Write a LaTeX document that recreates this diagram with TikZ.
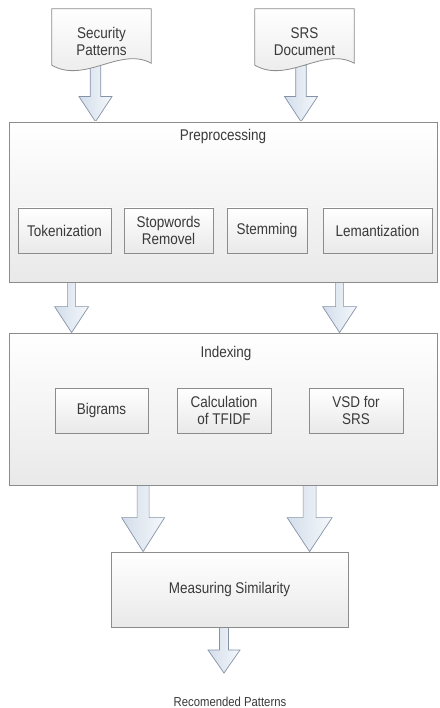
\documentclass[tikz,border=0pt]{standalone}
\usepackage{fontspec}
\setmainfont{Liberation Sans}[FakeStretch=0.87]
\usetikzlibrary{calc}
\definecolor{txt}{HTML}{3A3A3A}
\definecolor{bord}{HTML}{8C8C8C}
\definecolor{arrleft}{HTML}{D3DDEA}
\definecolor{arrright}{HTML}{F5F8FB}
\definecolor{arrbord}{HTML}{8593A8}
\definecolor{boxbot}{HTML}{E9E9E9}
\pgfdeclarelayer{bg}
\pgfsetlayers{bg,main}
\tikzset{
  bigbox/.style={draw=bord, top color=white, bottom color=boxbot, inner sep=0pt, line width=0.8pt},
  smallbox/.style={draw=bord, top color=white, bottom color=boxbot, inner sep=0pt, align=center,
    minimum height=45pt, line width=0.8pt},
  docnode/.style={inner sep=0pt, align=center, minimum width=99pt, minimum height=47pt},
  docshape/.style={draw=bord, top color=white, bottom color=boxbot, line width=0.8pt},
  titletext/.style={inner sep=0pt},
  blockarr/.style n args={3}{draw=arrbord, line width=0.7pt, left color=arrleft, right color=arrright,
    to path={let \p1=(\tikztostart), \p2=(\tikztotarget) in
      (\x1-#1pt,\y1) -- (\x1-#1pt,\y2+#3pt) -- (\x1-#2pt,\y2+#3pt) -- (\x1,\y2)
      -- (\x1+#2pt,\y2+#3pt) -- (\x1+#1pt,\y2+#3pt) -- (\x1+#1pt,\y1) -- cycle}}
}
\begin{document}
\begin{tikzpicture}[x=1pt,y=-1pt,font=\fontsize{15.5}{17}\selectfont,text=txt]
\useasboundingbox (0,0) rectangle (439,708);

% documents
\node[docnode] (doc1) at (101.5,41.5) {Security\\Patterns};
\node[docnode] (doc2) at (304.5,41.5) {SRS\\Document};

% big boxes
\node[bigbox, minimum width=428pt, minimum height=160pt] (pre) at (223,202) {};
\node[titletext] (pret) at (223,136) {Preprocessing};
\node[smallbox, minimum width=93pt] (tok) at (64.5,230.5) {Tokenization};
\node[smallbox, minimum width=89pt] (stop) at (168.5,230.5) {Stopwords\\Removel};
\node[smallbox, minimum width=80pt] (stem) at (267,230.5) {Stemming};
\node[smallbox, minimum width=109pt] (lem) at (377.5,230.5) {Lemantization};

\node[bigbox, minimum width=428pt, minimum height=152pt] (idx) at (223,409) {};
\node[titletext] (idxt) at (226,353) {Indexing};
\node[smallbox, minimum width=93pt] (big) at (101.5,410.5) {Bigrams};
\node[smallbox, minimum width=94pt] (calc) at (224,410.5) {Calculation\\of TFIDF};
\node[smallbox, minimum width=94pt] (vsd) at (356,410.5) {VSD for\\SRS};

\node[bigbox, minimum width=237pt, minimum height=75pt] (ms) at (229.5,589.5) {Measuring Similarity};

\node[titletext, font=\fontsize{13}{15}\selectfont] (rec) at (230,702) {Recomended Patterns};
\coordinate (rectip) at (224,673);

\begin{pgfonlayer}{bg}
  \fill[white] (0,0) rectangle (439,708);
  % arrows
  \draw[blockarr={5.3}{16.5}{25}] ([xshift=-6pt]doc1.south) to ([xshift=-6pt]doc1.south |- pre.north);
  \draw[blockarr={5.3}{16.5}{25}] ([xshift=-3.5pt]doc2.south) to ([xshift=-3.5pt]doc2.south |- pre.north);
  \draw[blockarr={4}{17}{26}] ([xshift=63pt]pre.south west) to ([xshift=63pt]idx.north west);
  \draw[blockarr={4}{17}{26}] ([xshift=331pt]pre.south west) to ([xshift=331pt]idx.north west);
  \draw[blockarr={6}{21.5}{34}] ([xshift=32.5pt]ms.north west |- idx.south) to ([xshift=32.5pt]ms.north west);
  \draw[blockarr={6.5}{22.5}{34}] ([xshift=199pt]ms.north west |- idx.south) to ([xshift=199pt]ms.north west);
  \draw[blockarr={4.5}{16}{23}] (rectip |- ms.south) to (rectip);
  % document outlines
  \foreach \d in {doc1,doc2}{
    \path[docshape] ($(\d.north west)+(0,-9)$) -- ($(\d.north east)+(0,-9)$) -- ($(\d.south east)+(0,-2)$)
      .. controls ($(\d.south east)+(-31,-19)$) and ($(\d.south west)+(33,19)$) .. (\d.south west) -- cycle;
  }
\end{pgfonlayer}
\end{tikzpicture}
\end{document}
